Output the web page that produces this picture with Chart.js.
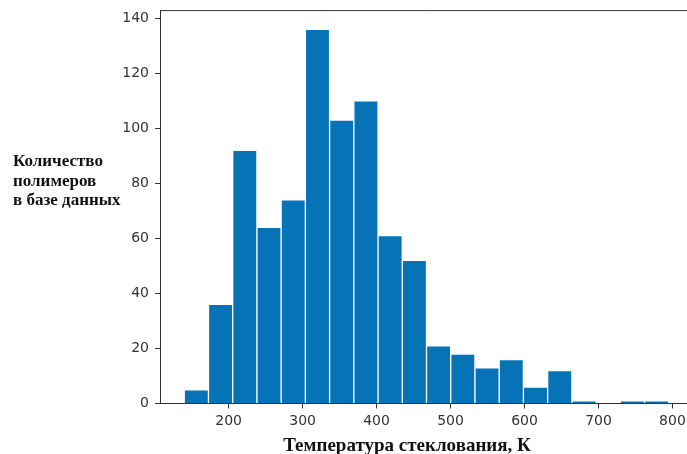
<!DOCTYPE html>
<html><head><meta charset="utf-8">
<script src="https://cdn.jsdelivr.net/npm/chart.js@4/dist/chart.umd.min.js"></script>
<style>
html,body{margin:0;padding:0;background:#fff;overflow:hidden;width:687px;height:454px}
#wrap{position:relative;width:693px;height:454px}
</style></head>
<body><div id="wrap"><canvas id="c" width="693" height="454"></canvas></div>
<script>
// ---- data ----
const binEdges = [140, 172.75, 205.5, 238.25, 271, 303.75, 336.5, 369.25, 402, 434.75, 467.5,
                  500.25, 533, 565.75, 598.5, 631.25, 664, 696.75, 729.5, 762.25, 795];
const counts = [5, 36, 92, 64, 74, 136, 103, 110, 61, 52, 21, 18, 13, 16, 6, 12, 1, 0, 1, 1];
const xTicks = [200, 300, 400, 500, 600, 700, 800];
const yTicks = [0, 20, 40, 60, 80, 100, 120, 140];
const xTitle = 'Температура стеклования, К';
const yTitleLines = ['Количество', 'полимеров', 'в базе данных'];

const points = counts.map((c, i) => ({ x: (binEdges[i] + binEdges[i + 1]) / 2, y: c }));

const axisColor = '#333333';
const tickFont = { family: '"DejaVu Sans", sans-serif', size: 14 };

const titlesPlugin = {
  id: 'titles',
  afterDraw(chart) {
    const ctx = chart.ctx;
    const a = chart.chartArea;
    ctx.save();
    // top spine
    ctx.strokeStyle = axisColor;
    ctx.lineWidth = 1;
    ctx.beginPath();
    ctx.moveTo(a.left, a.top);
    ctx.lineTo(a.right, a.top);
    ctx.stroke();
    // titles
    ctx.fillStyle = '#111111';
    ctx.textBaseline = 'alphabetic';
    ctx.font = 'bold 19px "Liberation Serif", serif';
    ctx.textAlign = 'center';
    ctx.fillText(xTitle, 407, 450.5);
    ctx.font = 'bold 17px "Liberation Serif", serif';
    ctx.textAlign = 'left';
    yTitleLines.forEach((t, i) => ctx.fillText(t, 13, 166 + i * 19.5));
    ctx.restore();
  }
};

new Chart(document.getElementById('c'), {
  type: 'bar',
  data: {
    datasets: [{
      data: points,
      backgroundColor: '#0673b6',
      borderColor: '#ffffff',
      borderWidth: 1,
      borderSkipped: 'bottom',
      barPercentage: 1,
      categoryPercentage: 1
    }]
  },
  options: {
    responsive: false,
    animation: false,
    devicePixelRatio: 1,
    layout: { padding: { top: 10.6, left: 0, right: 0, bottom: 0 } },
    plugins: { legend: { display: false }, tooltip: { enabled: false } },
    scales: {
      x: {
        type: 'linear',
        min: 107.25,
        max: 827.75,
        offset: false,
        z: 1,
        afterBuildTicks: s => { s.ticks = xTicks.map(v => ({ value: v })); },
        afterFit: s => { s.height = 50.5; s.paddingLeft = 0; s.paddingRight = 0; },
        grid: { display: true, drawOnChartArea: false, drawTicks: true, tickLength: 5, tickColor: axisColor, offset: false },
        border: { display: true, color: axisColor, width: 1 },
        ticks: { font: tickFont, color: axisColor, padding: 4, maxRotation: 0, autoSkip: false }
      },
      y: {
        type: 'linear',
        min: 0,
        max: 142.8,
        z: 1,
        afterBuildTicks: s => { s.ticks = yTicks.map(v => ({ value: v })); },
        afterFit: s => { s.width = 160; s.paddingTop = 0; s.paddingBottom = 0; },
        grid: { display: true, drawOnChartArea: false, drawTicks: true, tickLength: 5, tickColor: axisColor },
        border: { display: true, color: axisColor, width: 1 },
        ticks: { font: tickFont, color: axisColor, padding: 6 }
      }
    }
  },
  plugins: [titlesPlugin]
});
</script>
</body></html>
